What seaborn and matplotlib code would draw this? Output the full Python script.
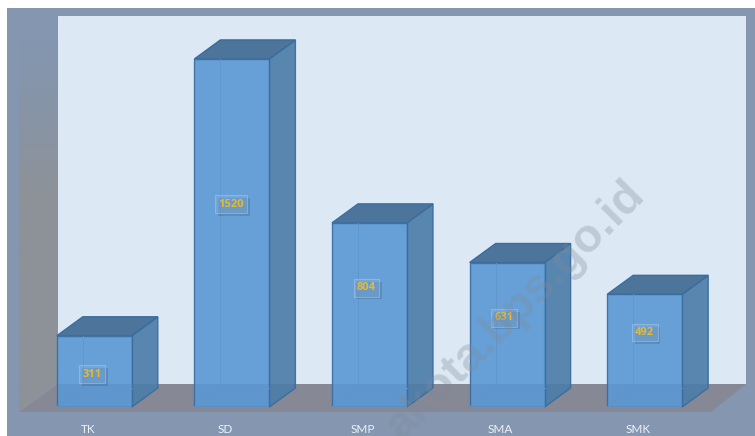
import numpy as np
import pandas as pd
import seaborn as sns
import matplotlib.pyplot as plt
import matplotlib.patheffects as pe
from matplotlib.patches import Polygon, Rectangle
from matplotlib.transforms import ScaledTranslation

jenjang = ["TK", "SD", "SMP", "SMA", "SMK"]
nilai = [311, 1520, 804, 631, 492]
# where the label sits inside each bar, as share of bar height
label_frac = [0.46, 0.583, 0.647, 0.618, 0.66]
label_shift = [-2, -1, -3, -3, 0]

W, H = 755, 436
px_per_val = 0.229
px_per_cat = 137.6
base_px = 407
top_px = 8
x0_px = 94.3
depth_x, depth_y = 26, 19

sns.set_theme(style="white")
plt.rcParams["font.family"] = ["Lato", "DejaVu Sans"]

fig = plt.figure(figsize=(W / 100, H / 100), dpi=100, facecolor="white")

# background drawn in pixel coordinates
bg = fig.add_axes([0, 0, 1, 1], zorder=0)
bg.axis("off")
bg.add_patch(Rectangle((7, 8), W - 7, H - 8, fc="#8496b0", ec="none"))
bg.add_patch(Rectangle((58, 16), 688, 368, fc="#dde8f5", ec="none"))
bg.add_patch(Polygon([(58, 384), (746, 384), (711, 412), (19, 412)], fc="#868895", ec="none"))
wall = Polygon([(19, 45), (58, 16), (58, 384), (19, 412)], fc="none", ec="none")
bg.add_patch(wall)
grad = np.array([0.0, 0.25, 0.6, 1.0, 1.0, 1.0, 1.0, 1.0]).reshape(-1, 1, 1)
c_top = np.array([0x84, 0x96, 0xb0]) / 255
c_bot = np.array([0x8d, 0x92, 0x98]) / 255
img = c_top + (c_bot - c_top) * grad
im = bg.imshow(img, extent=[19, 58, 412, 16], aspect="auto", interpolation="bilinear", zorder=3)
im.set_clip_path(wall)
bg.set_xlim(0, W)
bg.set_ylim(H, 0)

# main axes: bottom edge is the bar baseline
ax = fig.add_axes([0, (H - base_px) / H, 1, (base_px - top_px) / H], zorder=1)
ax.patch.set_alpha(0)
df = pd.DataFrame({"jenjang": jenjang, "nilai": nilai})
sns.barplot(data=df, x="jenjang", y="nilai", color="#5a98d4", saturation=1, width=0.545,
            edgecolor="#3a6c9e", linewidth=1, alpha=0.9, ax=ax, zorder=4)
ax.set_xlim(-x0_px / px_per_cat, (W - x0_px) / px_per_cat)
ax.set_ylim(0, (base_px - top_px) / px_per_val)
ax.set_xlabel("")
ax.set_ylabel("")
ax.set_yticks([])
sns.despine(ax=ax, left=True, bottom=True, right=True, top=True)
ax.tick_params(axis="x", length=0, pad=12.3, labelsize=8.5, labelcolor="#eef2f7")
# labels sit a little left of the bars in the original
nudge = ScaledTranslation(-6.5 / 100, 0, fig.dpi_scale_trans)
for lab in ax.get_xticklabels():
    lab.set_transform(lab.get_transform() + nudge)

dx = depth_x / px_per_cat
dy = depth_y / px_per_val
for i, bar in enumerate(list(ax.patches)):
    x, w, h = bar.get_x(), bar.get_width(), bar.get_height()
    # side and top faces of the box
    ax.add_patch(Polygon([(x + w, 0), (x + w + dx, dy), (x + w + dx, h + dy), (x + w, h)],
                         fc="#4d7ea9", ec="#3a6c9e", lw=1, alpha=0.92, zorder=3, clip_on=False))
    ax.add_patch(Polygon([(x, h), (x + dx, h + dy), (x + w + dx, h + dy), (x + w, h)],
                         fc="#4a7399", ec="#3a6c9e", lw=1, alpha=0.98, zorder=3, clip_on=False))
    # back edges showing through the front face
    ax.plot([x + dx, x + dx], [dy, h], color="#5f97cc", lw=0.7, zorder=5)
    ax.plot([x + dx, x + w], [dy, dy], color="#5f97cc", lw=0.7, zorder=5)
    ax.plot([x, x + dx], [0, dy], color="#5f97cc", lw=0.7, zorder=5)
    t = ax.annotate(str(nilai[i]), (i, nilai[i] * label_frac[i]), xytext=(label_shift[i], 0),
                    textcoords="offset pixels", ha="center", va="center", color="#e8b92f",
                    fontsize=8, fontweight="bold", family=["Open Sans", "DejaVu Sans"], zorder=7,
                    bbox=dict(boxstyle="square,pad=0.3", fc="#7fb0dd", ec="#c3d4e6", lw=0.8, alpha=0.4))
    t.get_bbox_patch().set_path_effects([pe.SimplePatchShadow(offset=(2, -2), alpha=0.18), pe.Normal()])

# watermark over everything, its start runs off the bottom edge
fig.text(516 / W, 1 - 311 / H, "akota.bps.go.id", rotation=45, rotation_mode="anchor",
         ha="center", va="center", fontsize=34, fontweight="bold", color="#7f8a99", alpha=0.32,
         family=["Liberation Sans", "DejaVu Sans"], zorder=5)

fig.savefig("out.png", dpi=100)
